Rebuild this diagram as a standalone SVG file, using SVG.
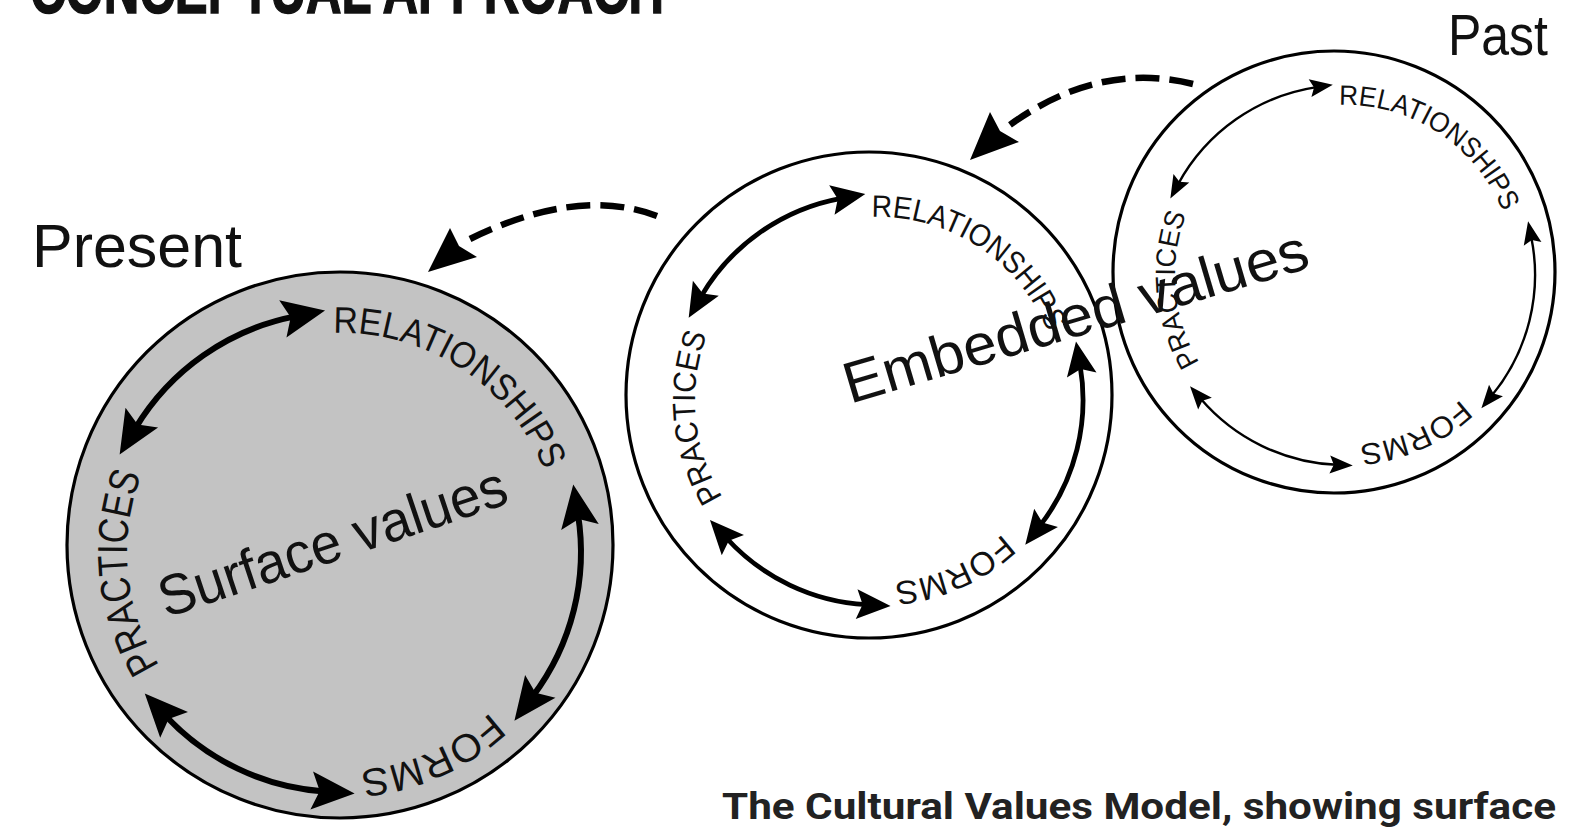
<svg xmlns="http://www.w3.org/2000/svg" xmlns:xlink="http://www.w3.org/1999/xlink" width="1593" height="827" viewBox="0 0 1593 827">
<style>
.outer{stroke:#000;stroke-width:3.2}
.lbl{font-family:"Liberation Sans",Arial,sans-serif;fill:#111}
.big{font-family:"Liberation Sans",Arial,sans-serif;fill:#111}
.arP{fill:none;stroke:#000;stroke-width:6;marker-start:url(#hP);marker-end:url(#hP)}
.arM{fill:none;stroke:#000;stroke-width:4.8;marker-start:url(#hM);marker-end:url(#hM)}
.arS{fill:none;stroke:#000;stroke-width:2.4;marker-start:url(#hS);marker-end:url(#hS)}
.dash{fill:none;stroke:#000;stroke-width:6.5;stroke-dasharray:24 10}
</style>
<defs>
<marker id="hP" markerUnits="userSpaceOnUse" markerWidth="50" markerHeight="50" refX="12.6" refY="0" orient="auto-start-reverse" overflow="visible"><path d="M0,-19 L43,0 L0,19 L8,0 Z" fill="#000"/></marker>
<marker id="hM" markerUnits="userSpaceOnUse" markerWidth="40" markerHeight="40" refX="9.6" refY="0" orient="auto-start-reverse" overflow="visible"><path d="M0,-15 L34,0 L0,15 L6,0 Z" fill="#000"/></marker>
<marker id="hS" markerUnits="userSpaceOnUse" markerWidth="30" markerHeight="30" refX="6.6" refY="0" orient="auto-start-reverse" overflow="visible"><path d="M0,-9 L23,0 L0,9 L4,0 Z" fill="#000"/></marker>
<path id="tpPR" d="M333.4,333.1 A219,219 0 0 1 556.7,514.0"/>
<path id="tpPP" d="M159.5,665.4 A214,214 0 0 1 155.7,445"/>
<path id="tpPF" d="M490.4,712.2 A219,219 0 0 1 321.9,770.2"/>
<path id="tpMR" d="M871.6,217.1 A183,183 0 0 1 1058.2,368.2"/>
<path id="tpMP" d="M722.8,497 A183,183 0 0 1 719.5,308.5"/>
<path id="tpMF" d="M1002.8,533.8 A183,183 0 0 1 862,582.3"/>
<path id="tpSR" d="M1339.1,105.1 A170,170 0 0 1 1512.4,245.5"/>
<path id="tpSP" d="M1199.3,362.6 A170,170 0 0 1 1197.8,190"/>
<path id="tpSF" d="M1460.9,399.3 A170,170 0 0 1 1330.2,444.4"/>
</defs>
<rect width="1593" height="827" fill="#fff"/>

<text class="big" x="30" y="13" font-size="68" font-weight="bold" stroke="#111" stroke-width="1.5" textLength="634" lengthAdjust="spacingAndGlyphs">CONCEPTUAL APPROACH</text>

<g id="present">
<circle class="outer" cx="340" cy="545" r="273" fill="#c3c3c3"/>
<text class="big" x="32" y="267" font-size="61" textLength="210" lengthAdjust="spacingAndGlyphs">Present</text>
<path class="arP" d="M135.3,428.4 A240,240 0 0 1 295.2,316.4"/>
<path class="arP" d="M324.3,791.4 A240,240 0 0 1 165.5,715.7"/>
<path class="arP" d="M578,514.5 A240,240 0 0 1 532.7,696.4"/>
<text class="lbl" font-size="37"><textPath xlink:href="#tpPR" href="#tpPR" textLength="268" lengthAdjust="spacingAndGlyphs">RELATIONSHIPS</textPath></text>
<text class="lbl" font-size="42"><textPath xlink:href="#tpPP" href="#tpPP" textLength="198" lengthAdjust="spacingAndGlyphs">PRACTICES</textPath></text>
<text class="lbl" font-size="39"><textPath xlink:href="#tpPF" href="#tpPF" textLength="145" lengthAdjust="spacingAndGlyphs">FORMS</textPath></text>
<text class="big" x="166" y="618" font-size="57" transform="rotate(-18.5 166 618)" textLength="364" lengthAdjust="spacingAndGlyphs">Surface values</text>
</g>

<g id="embedded">
<circle class="outer" cx="869" cy="395" r="243" fill="none"/>
<path class="arM" d="M701,296.6 A205,205 0 0 1 841.3,198.3"/>
<path class="arM" d="M866.2,604.7 A205,205 0 0 1 726.4,538"/>
<path class="arM" d="M1080.1,365.5 A205,205 0 0 1 1040.2,525.4"/>
<text class="lbl" font-size="31"><textPath xlink:href="#tpMR" href="#tpMR" textLength="224" lengthAdjust="spacingAndGlyphs">RELATIONSHIPS</textPath></text>
<text class="lbl" font-size="32"><textPath xlink:href="#tpMP" href="#tpMP" textLength="169" lengthAdjust="spacingAndGlyphs">PRACTICES</textPath></text>
<text class="lbl" font-size="33"><textPath xlink:href="#tpMF" href="#tpMF" textLength="121" lengthAdjust="spacingAndGlyphs">FORMS</textPath></text>
</g>

<g id="past">
<circle class="outer" cx="1334" cy="272" r="221" fill="none"/>
<text class="big" x="1448" y="55" font-size="58" textLength="100" lengthAdjust="spacingAndGlyphs">Past</text>
<path class="arS" d="M1178.2,184 A190,190 0 0 1 1316.6,87.1"/>
<path class="arS" d="M1336.4,464.8 A190,190 0 0 1 1200.7,398.7"/>
<path class="arS" d="M1531.3,237.4 A190,190 0 0 1 1491.8,395.6"/>
<text class="lbl" font-size="28"><textPath xlink:href="#tpSR" href="#tpSR" textLength="208" lengthAdjust="spacingAndGlyphs">RELATIONSHIPS</textPath></text>
<text class="lbl" font-size="28"><textPath xlink:href="#tpSP" href="#tpSP" textLength="154" lengthAdjust="spacingAndGlyphs">PRACTICES</textPath></text>
<text class="lbl" font-size="30"><textPath xlink:href="#tpSF" href="#tpSF" textLength="113" lengthAdjust="spacingAndGlyphs">FORMS</textPath></text>
</g>

<text id="embedded-label" class="big" x="850" y="404" font-size="58" transform="rotate(-16.5 850 404)" textLength="482" lengthAdjust="spacingAndGlyphs">Embedded values</text>

<g id="connectors">
<path class="dash" d="M1193,84 Q1095,60 1003,130"/>
<path d="M970,160 L990,112 L1000,131 L1019,142 Z" fill="#000"/>
<path class="dash" d="M657,216 Q575,185 462,243"/>
<path d="M428,272 L450,228 L459,246 L477,257 Z" fill="#000"/>
</g>

<text x="722" y="819" font-family="Roboto,'Liberation Sans',sans-serif" font-weight="bold" font-size="37" fill="#222" textLength="834" lengthAdjust="spacingAndGlyphs">The Cultural Values Model, showing surface</text>
</svg>
